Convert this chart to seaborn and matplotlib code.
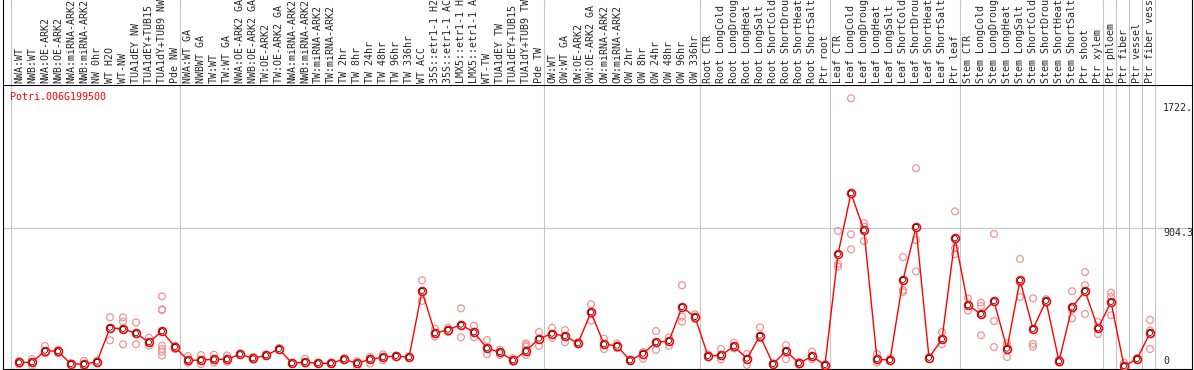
# Expression profile for one poplar gene across sample groups

import numpy as np
import pandas as pd
import matplotlib
matplotlib.use("Agg")
import matplotlib.pyplot as plt
import seaborn as sns

sns.set_style("white")
plt.rcParams['font.family'] = ['DejaVu Sans Mono']

gene = "Potri.006G199500"

samples = [
    # NW
    "NWA:WT", "NWB:WT", "NWA:OE-ARK2", "NWB:OE-ARK2", "NWA:miRNA-ARK2",
    "NWB:miRNA-ARK2", "NW 0hr", "WT H2O", "WT-NW", "TUA1dEY NW",
    "TUA1dEY+TUB15 NW", "TUA1dY+TUB9 NW", "Pde NW",
    # TW
    "NWA:WT GA", "NWBWT GA", "TW:WT", "TW:WT GA", "NWA:OE-ARK2 GA",
    "NWB:OE-ARK2 GA", "TW:OE-ARK2", "TW:OE-ARK2 GA", "NWA:miRNA-ARK2",
    "NWB:miRNA-ARK2", "TW:miRNA-ARK2", "TW:miRNA-ARK2", "TW 2hr", "TW 8hr",
    "TW 24hr", "TW 48hr", "TW 96hr", "TW 336hr", "WT ACC", "35S::etr1-1 H2O",
    "35S::etr1-1 ACC", "LMX5::etr1-1 H2O", "LMX5::etr1-1 ACC", "WT-TW",
    "TUA1dEY TW", "TUA1dEY+TUB15 TW", "TUA1dY+TUB9 TW", "Pde TW",
    # OW
    "OW:WT", "OW:WT GA", "OW:OE-ARK2", "OW:OE-ARK2 GA", "OW:miRNA-ARK2",
    "OW:miRNA-ARK2", "OW 2hr", "OW 8hr", "OW 24hr", "OW 48hr", "OW 96hr",
    "OW 336hr",
    # Root
    "Root CTR", "Root LongCold", "Root LongDrought", "Root LongHeat",
    "Root LongSalt", "Root ShortCold", "Root ShortDrought", "Root ShortHeat",
    "Root ShortSalt", "Ptr root",
    # Leaf
    "Leaf CTR", "Leaf LongCold", "Leaf LongDrought", "Leaf LongHeat",
    "Leaf LongSalt", "Leaf ShortCold", "Leaf ShortDrought", "Leaf ShortHeat",
    "Leaf ShortSalt", "Ptr leaf",
    # Stem
    "Stem CTR", "Stem LongCold", "Stem LongDrought", "Stem LongHeat",
    "Stem LongSalt", "Stem ShortCold", "Stem ShortDrought", "Stem ShortHeat",
    "Stem ShortSalt", "Ptr shoot", "Ptr xylem",
    # single tissues
    "Ptr phloem", "Ptr fiber", "Ptr vessel", "Ptr fiber vessel",
]
group_sizes = [13, 28, 12, 10, 10, 11, 1, 1, 1, 1]

means = [
    27, 27, 103, 99, 16, 16, 31, 253, 245, 217, 158, 230, 127,
    40, 42, 47, 47, 80, 53, 73, 114, 21, 29, 21, 21, 47, 21, 47, 60, 69, 60,
    493, 217, 240, 273, 223, 119, 93, 40, 101, 182,
    214, 199, 151, 354, 145, 136, 40, 84, 158, 166, 388, 323,
    69, 73, 132, 51, 201, 16, 101, 21, 67, 10,
    734, 1131, 889, 47, 42, 565, 911, 57, 178, 837,
    400, 343, 426, 116, 563, 245, 428, 34, 386, 493, 249,
    421, 3, 49, 219,
]

reps = [
    [35, 20, 15], [49, 27, 5], [134, 86, 100], [110, 99, 88], [22, 16, 10],
    [38, 12, 0], [38, 31, 22], [321, 171, 253], [321, 293, 145],
    [288, 217, 145], [188, 136, 158], [458, 373, 368, 136, 114, 97, 71],
    [136, 127, 114],
    [69, 40, 25], [75, 42, 16], [77, 47, 25], [72, 47, 30], [85, 80, 75],
    [62, 53, 44], [78, 73, 68], [120, 114, 108], [25, 21, 17], [51, 29, 20],
    [25, 21, 17], [25, 21, 17], [52, 47, 42], [35, 21, 0], [62, 47, 19],
    [80, 60, 40], [72, 69, 66], [64, 60, 56], [563, 493, 428],
    [247, 217, 195], [255, 240, 225], [380, 273, 191], [266, 223, 191],
    [173, 119, 80], [110, 93, 75], [55, 40, 30], [151, 140, 130, 75],
    [225, 182, 134],
    [253, 214, 188], [238, 199, 158], [158, 151, 145], [406, 354, 299],
    [182, 145, 114], [150, 136, 120], [45, 40, 35], [95, 84, 51],
    [232, 158, 108], [190, 166, 134], [530, 325, 293], [341, 323, 310],
    [80, 69, 60], [114, 73, 47], [155, 132, 118], [82, 51, 10],
    [256, 201, 184], [20, 16, 12], [140, 101, 47], [30, 21, 12],
    [97, 67, 47], [15, 10, 5],
    [885, 669, 652], [1751, 863, 765], [935, 915, 819], [82, 47, 25],
    [50, 42, 35], [715, 499, 486], [1294, 826, 621], [62, 57, 52],
    [225, 178, 145], [1013, 772, 734],
    [445, 400, 364], [417, 395, 204], [865, 297, 127], [151, 130, 62],
    [702, 547, 454], [445, 147, 129], [440, 428, 416], [45, 34, 25],
    [491, 369, 315], [617, 532, 343], [290, 249, 212],
    [482, 456, 334], [25, 3, 0], [55, 49, 44], [304, 234, 114],
]

y_ticks = [0, 904.3, 1722]
y_tick_labels = ["0", "904.3", "1722."]

df_mean = pd.DataFrame({'x': np.arange(len(means)), 'value': means})
df_rep = pd.DataFrame([(i, v) for i, r in enumerate(reps) for v in r],
                      columns=['x', 'value'])

W, H = 1194, 370
fig = plt.figure(figsize=(W / 100, H / 100), dpi=100)
ax = fig.add_axes([3 / W, 1 / H, 1189 / W, 284 / H])
ax_lab = fig.add_axes([3 / W, 285 / H, 1189 / W, 85 / H])

grid_col = '#c4c4c4'
rep_col = '#ee9494'
fs = 7.2

# group separators
bounds = np.concatenate([[0], np.cumsum(group_sizes)]) - 8 / 13
for a in (ax, ax_lab):
    for b in bounds:
        a.axvline(b, color=grid_col, lw=0.8, zorder=0)
ax.axhline(y_ticks[1], color=grid_col, lw=0.8, zorder=0)

# replicates, mean line, mean markers
sns.scatterplot(data=df_rep, x='x', y='value', ax=ax, marker='o', s=24,
                color=rep_col, facecolor='none', edgecolor=rep_col,
                linewidth=0.9, zorder=2)
sns.lineplot(data=df_mean, x='x', y='value', ax=ax, color='red', lw=1.0,
             zorder=3)
sns.scatterplot(data=df_mean, x='x', y='value', ax=ax, marker='o', s=32,
                color='white', facecolor='white', edgecolor='red',
                linewidth=1.2, zorder=4)
sns.scatterplot(data=df_mean, x='x', y='value', ax=ax, marker='o', s=13,
                color='black', facecolor='none', edgecolor='black',
                linewidth=0.5, zorder=5)

xmin, xmax = -16 / 13, 1173 / 13
ax.set_xlim(xmin, xmax)
ax.set_ylim(-2.5 * 6.529, 281.5 * 6.529)
ax.set_xticks([])
ax.set_yticks([])
ax.set_xlabel('')
ax.set_ylabel('')
for s in ax.spines.values():
    s.set_color('black')
    s.set_linewidth(0.8)

# right side value labels
for t, lab in zip(y_ticks, y_tick_labels):
    ax.text(88.0, t, lab, fontsize=fs, ha='left',
            va='bottom' if t == 0 else 'top', clip_on=True)

fig.text(10 / W, 1 - 97 / H, gene, color='red', fontsize=fs,
         ha='left', va='center')

# sample labels strip
ax_lab.set_xlim(xmin, xmax)
ax_lab.set_ylim(85, 0)
ax_lab.set_xticks([])
ax_lab.set_yticks([])
for side in ('top', 'bottom'):
    ax_lab.spines[side].set_visible(False)
for side in ('left', 'right'):
    ax_lab.spines[side].set_color('black')
    ax_lab.spines[side].set_linewidth(0.8)
for i, name in enumerate(samples):
    ax_lab.text(i, 83, name, rotation=90, ha='center', va='bottom',
                fontsize=fs)

plt.savefig("out.png", dpi=100)
